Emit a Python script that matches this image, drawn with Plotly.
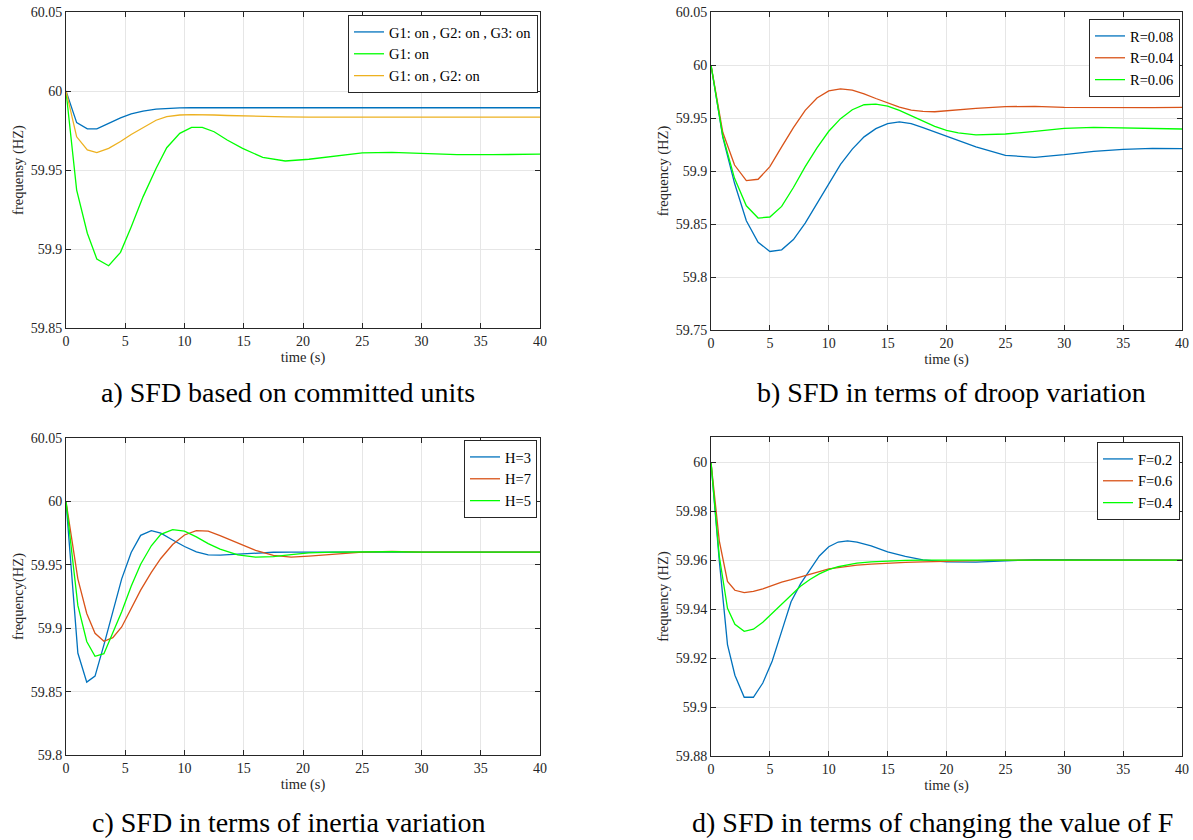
import plotly.graph_objects as go

# ---- data ----
# a) committed units
t_a = [0, 0.9, 1.8, 2.6, 3.6, 4.6, 5.5, 6.5, 7.6, 8.5, 9.6, 10.6, 11.5, 12.5, 13.6,
       14.9, 16.6, 18.5, 20.5, 22.5, 25, 27.5, 30, 33, 36, 40]
g123 = [60, 59.980, 59.976, 59.976, 59.9795, 59.983, 59.9855, 59.9873, 59.9885, 59.989,
        59.9893, 59.9894, 59.9894, 59.9894, 59.9894, 59.9894, 59.9894, 59.9894, 59.9894,
        59.9894, 59.9894, 59.9894, 59.9894, 59.9894, 59.9894, 59.9894]
g1 = [60, 59.9373, 59.910, 59.8937, 59.8894, 59.8979, 59.914, 59.933, 59.951, 59.9641,
      59.9732, 59.977, 59.977, 59.9742, 59.969, 59.9637, 59.958, 59.9557, 59.9568,
      59.9588, 59.9609, 59.9611, 59.9603, 59.9597, 59.9597, 59.960]
g12 = [60, 59.971, 59.9627, 59.961, 59.9637, 59.968, 59.9725, 59.977, 59.9815, 59.9838,
       59.9848, 59.985, 59.985, 59.9848, 59.9845, 59.9842, 59.984, 59.9836, 59.9835,
       59.9835, 59.9835, 59.9835, 59.9835, 59.9835, 59.9835, 59.9835]

# b) droop variation
t_b = [0, 1, 2, 3, 4, 5, 6, 7, 8, 9, 10, 11, 12, 13, 14, 15, 16, 17, 18, 19, 20,
       21, 22.5, 25, 27.5, 30, 32.5, 35, 37.5, 40]
r08 = [60, 59.932, 59.8884, 59.8531, 59.8328, 59.8241, 59.8256, 59.8353, 59.8509, 59.8691,
       59.8884, 59.9063, 59.9206, 59.9322, 59.940, 59.9447, 59.9463, 59.9447, 59.9409,
       59.9369, 59.9330, 59.9292, 59.9228, 59.9148, 59.9129, 59.9154, 59.9186, 59.9204,
       59.9214, 59.9211]
r04 = [60, 59.9365, 59.9056, 59.8909, 59.8922, 59.9041, 59.9228, 59.9409, 59.9572, 59.9688,
       59.9756, 59.9775, 59.9763, 59.9728, 59.9684, 59.9641, 59.9603, 59.9575, 59.9563,
       59.9559, 59.9569, 59.958, 59.9591, 59.9607, 59.961, 59.960, 59.9598, 59.9597,
       59.9598, 59.960]
r06 = [60, 59.933, 59.8931, 59.8672, 59.8556, 59.8566, 59.8666, 59.8844, 59.9041, 59.9219,
       59.9375, 59.9494, 59.9578, 59.9625, 59.9631, 59.9613, 59.9572, 59.9522, 59.9472,
       59.9422, 59.9384, 59.936, 59.934, 59.9349, 59.9374, 59.9403, 59.9412, 59.9409,
       59.940, 59.9396]

# c) inertia variation
t_c = [0, 1.0, 1.75, 2.45, 3.2, 3.95, 4.7, 5.5, 6.3, 7.2, 8.0, 9.0, 10.0, 11.0, 12.0,
       13.0, 14.5, 16, 17.5, 19, 20.5, 22.5, 25, 27.5, 30, 35, 40]
h3 = [60, 59.8804, 59.8575, 59.8622, 59.8869, 59.9129, 59.9389, 59.9597, 59.9732, 59.9769,
      59.975, 59.9696, 59.9644, 59.9602, 59.9579, 59.9576, 59.9584, 59.9594, 59.9599,
      59.960, 59.960, 59.960, 59.960, 59.960, 59.960, 59.960, 59.960]
h7 = [60, 59.9389, 59.9116, 59.896, 59.8897, 59.8925, 59.901, 59.9155, 59.930, 59.944,
      59.955, 59.966, 59.9735, 59.977, 59.9765, 59.973, 59.967, 59.9613, 59.9574, 59.956,
      59.9568, 59.958, 59.960, 59.9606, 59.960, 59.960, 59.960]
h5 = [60, 59.918, 59.8895, 59.8778, 59.8799, 59.896, 59.913, 59.933, 59.9505, 59.965,
      59.974, 59.9777, 59.9765, 59.972, 59.9667, 59.9623, 59.9579, 59.956, 59.9565,
      59.958, 59.9594, 59.960, 59.9604, 59.9603, 59.960, 59.960, 59.960]

# d) value of F
t_d = [0, 0.7, 1.4, 2.03, 2.82, 3.6, 4.4, 5.2, 6.0, 6.8, 7.6, 8.4, 9.2, 10, 10.8, 11.6,
       12.4, 13.6, 15, 16.5, 18, 20, 22.5, 25, 27.5, 30, 35, 40]
f02 = [60, 59.960, 59.9255, 59.913, 59.904, 59.904, 59.9098, 59.9188, 59.9309, 59.943,
       59.9503, 59.9561, 59.9617, 59.9655, 59.9674, 59.9679, 59.9674, 59.9658, 59.9634,
       59.9615, 59.9601, 59.9593, 59.9592, 59.9597, 59.9602, 59.9602, 59.960, 59.960]
f06 = [60, 59.968, 59.9513, 59.9477, 59.9467, 59.9472, 59.9483, 59.9497, 59.951, 59.952,
       59.953, 59.9542, 59.9553, 59.9564, 59.957, 59.9576, 59.958, 59.9584, 59.9588,
       59.9591, 59.9593, 59.9596, 59.9598, 59.960, 59.960, 59.960, 59.960, 59.960]
f04 = [60, 59.9617, 59.9403, 59.9338, 59.9309, 59.9318, 59.9346, 59.9383, 59.9423, 59.946,
       59.9493, 59.9521, 59.9544, 59.9561, 59.9573, 59.9581, 59.9588, 59.9593, 59.9597,
       59.9599, 59.960, 59.960, 59.960, 59.960, 59.960, 59.960, 59.960, 59.960]

x_ticks = [0, 5, 10, 15, 20, 25, 30, 35, 40]
y_ticks_a = [59.85, 59.9, 59.95, 60, 60.05]
y_ticks_b = [59.75, 59.8, 59.85, 59.9, 59.95, 60, 60.05]
y_ticks_c = [59.8, 59.85, 59.9, 59.95, 60, 60.05]
y_ticks_d = [59.88, 59.9, 59.92, 59.94, 59.96, 59.98, 60]

captions = ["a) SFD based on committed units", "b) SFD in terms of droop variation",
            "c) SFD in terms of inertia variation", "d) SFD in terms of changing the value of F"]

BLUE, ORANGE, GREEN, YELLOW = "#0072BD", "#D95319", "#00FF00", "#EDB120"
FONT = "Liberation Serif"
W, H = 1193, 840

panels = [
    dict(t=t_a, series=[("G1: on , G2: on , G3: on", g123, BLUE), ("G1: on", g1, GREEN),
                        ("G1: on , G2: on", g12, YELLOW)],
         yr=[59.85, 60.05], yt=y_ticks_a, ylab="frequensy (HZ)",
         px=(66, 540), py=(12, 328), leg=(538, 15)),
    dict(t=t_b, series=[("R=0.08", r08, BLUE), ("R=0.04", r04, ORANGE), ("R=0.06", r06, GREEN)],
         yr=[59.75, 60.05], yt=y_ticks_b, ylab="frequency (HZ)",
         px=(711, 1182), py=(12, 330), leg=(1180, 19)),
    dict(t=t_c, series=[("H=3", h3, BLUE), ("H=7", h7, ORANGE), ("H=5", h5, GREEN)],
         yr=[59.8, 60.05], yt=y_ticks_c, ylab="frequency(HZ)",
         px=(66, 540), py=(438, 755), leg=(537, 440)),
    dict(t=t_d, series=[("F=0.2", f02, BLUE), ("F=0.6", f06, ORANGE), ("F=0.4", f04, GREEN)],
         yr=[59.88, 60.0103], yt=y_ticks_d, ylab="frequency (HZ)",
         px=(711, 1182), py=(437, 756), leg=(1180, 442)),
]
cap_pos = [(288, 392), (951, 392), (288, 822), (932, 822)]

fig = go.Figure()
layout = {}
for i, p in enumerate(panels):
    n = "" if i == 0 else str(i + 1)
    leg = "legend" + n
    for name, y, col in p["series"]:
        fig.add_trace(go.Scatter(x=p["t"], y=y, name=name, mode="lines",
                                 line=dict(color=col, width=1.3),
                                 xaxis="x" + n, yaxis="y" + n, legend=leg))
    axis_common = dict(showline=True, linecolor="#262626", linewidth=1, mirror="ticks",
                       ticks="inside", ticklen=5, tickcolor="#262626", automargin=False,
                       showgrid=True, gridcolor="#e6e6e6", gridwidth=1, zeroline=False,
                       tickfont=dict(family=FONT, size=14, color="#262626"))
    layout["xaxis" + n] = dict(axis_common, domain=[p["px"][0] / W, p["px"][1] / W],
                               range=[0, 40], tickvals=x_ticks, anchor="y" + n,
                               title=dict(text="time (s)", standoff=3,
                                          font=dict(family=FONT, size=14.5, color="#262626")))
    layout["yaxis" + n] = dict(axis_common, domain=[1 - p["py"][1] / H, 1 - p["py"][0] / H],
                               range=p["yr"], tickvals=p["yt"],
                               ticktext=[f"{v:g}" for v in p["yt"]], anchor="x" + n,
                               title=dict(text=p["ylab"], standoff=3,
                                          font=dict(family=FONT, size=14.5, color="#262626")))
    layout[leg] = dict(x=p["leg"][0] / W, y=1 - p["leg"][1] / H, xanchor="right", yanchor="top",
                       bgcolor="white", bordercolor="#262626", borderwidth=1,
                       font=dict(family=FONT, size=14.5, color="#000000"),
                       tracegroupgap=0, itemwidth=30)

annotations = [dict(text=c, x=cx / W, y=1 - cy / H, xref="paper", yref="paper",
                    xanchor="center", yanchor="middle", showarrow=False,
                    font=dict(family=FONT, size=28, color="#000000"))
               for c, (cx, cy) in zip(captions, cap_pos)]

fig.update_layout(**layout, annotations=annotations, width=W, height=H,
                  margin=dict(l=0, r=0, t=0, b=0), plot_bgcolor="white",
                  paper_bgcolor="white", showlegend=True,
                  font=dict(family=FONT))

fig.write_html("out.html", config={"displayModeBar": False},
               post_script="document.body.style.margin='0';")
